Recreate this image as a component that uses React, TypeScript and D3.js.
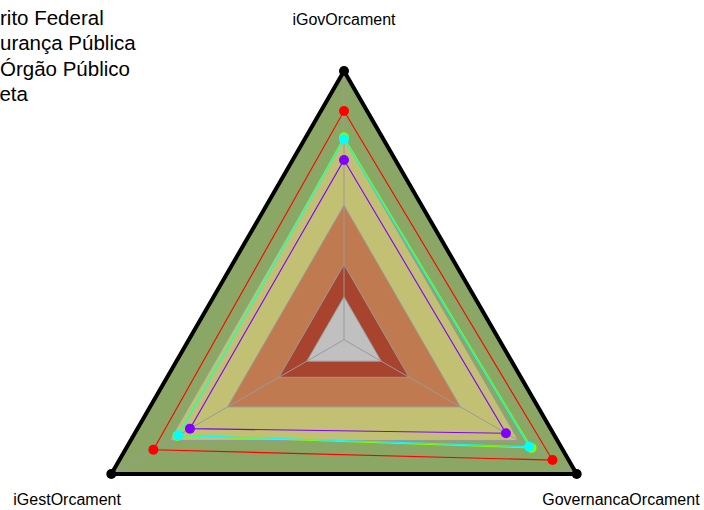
import React from "react";
import * as d3 from "d3";

const axes = ["iGovOrcament", "GovernancaOrcament", "iGestOrcament"];
const bandLevels = [1.0, 0.75, 0.5, 0.28, 0.16];
const bandColors = ["#8aa766", "#c2c072", "#c07a50", "#a8432d", "#c0c0c0"];

const seriesNames = ["Distrito Federal", "Segurança Pública", "Órgão Público", "Meta"];
const seriesColors = ["#ff0000", "#7fff00", "#00ffff", "#8000ff"];
const seriesValues: number[][] = [
  [0.851, 0.896, 0.819],
  [0.753, 0.806, 0.716],
  [0.746, 0.796, 0.712],
  [0.669, 0.696, 0.662],
];
const legendNames = ["Distrito Federal", "Segurança Pública", "Órgão Público", "Meta"];

const W = 704;
const H = 510;
const CX = 344;
const CY = 339.7;
const R = 268.7;
const legendX = [-35.3, -36.5, 0, -17.7];

export default function App() {
  const rScale = d3.scaleLinear().domain([0, 1]).range([0, R]);
  const angle = (i: number) => (i * 2 * Math.PI) / axes.length;
  const pt = (i: number, v: number): [number, number] => [
    CX + rScale(v) * Math.sin(angle(i)),
    CY - rScale(v) * Math.cos(angle(i)),
  ];
  const line = d3.line<[number, number]>().curve(d3.curveLinearClosed);

  return (
    <svg
      width={W}
      height={H}
      style={{ position: "absolute", left: 0, top: 0, fontFamily: "Liberation Sans, Arial, sans-serif" }}
    >
      <rect width={W} height={H} fill="#fff" />
      {bandLevels.map((lv, k) => (
        <path
          key={"b" + k}
          d={line(axes.map((_, i) => pt(i, lv))) || ""}
          fill={bandColors[k]}
          stroke={k === 0 ? "none" : "#999"}
          strokeWidth={1}
        />
      ))}
      {axes.map((_, i) => {
        const [x, y] = pt(i, 1);
        return <line key={"ax" + i} x1={CX} y1={CY} x2={x} y2={y} stroke="#9a9a9a" strokeWidth={1} />;
      })}
      <path d={line(axes.map((_, i) => pt(i, 1))) || ""} fill="none" stroke="#000" strokeWidth={4} strokeLinejoin="miter" />
      {axes.map((_, i) => {
        const [x, y] = pt(i, 1);
        return <circle key={"vx" + i} cx={x} cy={y} r={5} fill="#000" />;
      })}
      {seriesValues.map((vals, s) => (
        <g key={"s" + s}>
          <path d={line(vals.map((v, i) => pt(i, v))) || ""} fill="none" stroke={seriesColors[s]} strokeWidth={1.1} />
          {vals.map((v, i) => {
            const [x, y] = pt(i, v);
            return <circle key={i} cx={x} cy={y} r={5} fill={seriesColors[s]} />;
          })}
        </g>
      ))}
      {axes.map((a, i) => {
        const [x, y] = pt(i, 1.19);
        return (
          <text key={"l" + i} x={x} y={y} textAnchor="middle" dominantBaseline="central" fontSize={16} fill="#000">
            {a}
          </text>
        );
      })}
      {legendNames.map((n, k) => (
        <text key={"lg" + k} x={legendX[k]} y={25 + k * 25.3} fontSize={20.5} fill="#000">
          {n}
        </text>
      ))}
    </svg>
  );
}
